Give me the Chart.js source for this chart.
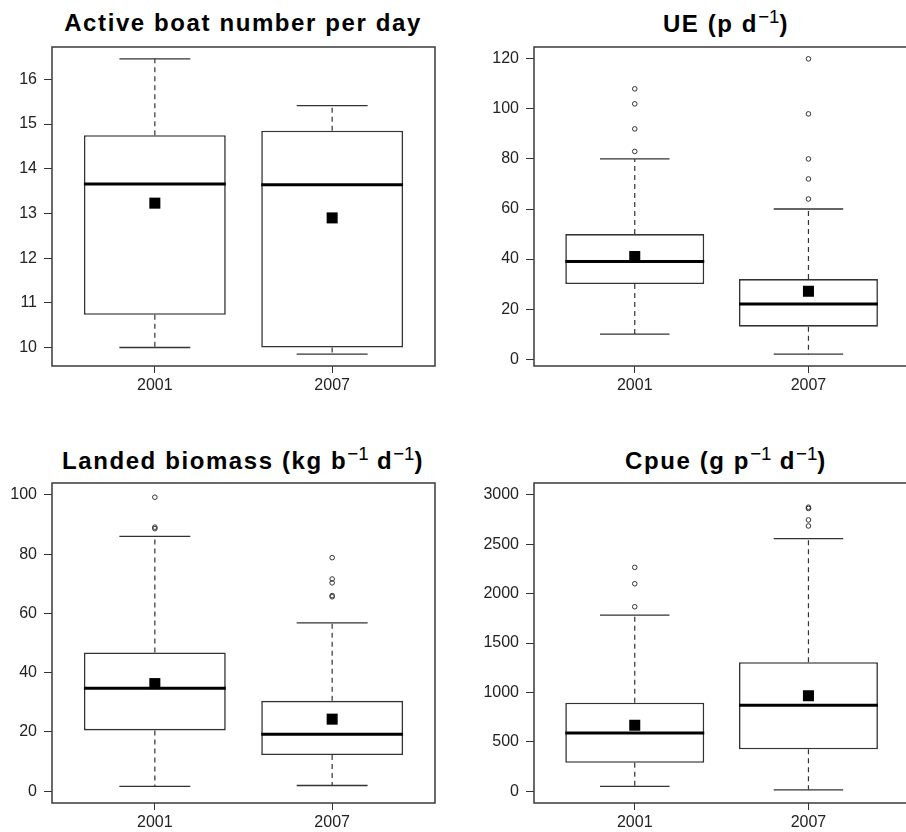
<!DOCTYPE html>
<html>
<head>
<meta charset="utf-8">
<script src="https://cdn.jsdelivr.net/npm/chart.js@4.4.1/dist/chart.umd.min.js"></script>
<style>
  html, body { margin: 0; padding: 0; background: #fff; overflow: hidden; width: 906px; height: 832px; }
  .panel { position: absolute; }
  .title {
    position: absolute; width: 460px; text-align: center; white-space: nowrap;
    font: bold 24px "Liberation Sans", Arial, sans-serif; line-height: 24px;
    letter-spacing: 1.6px; color: #000;
  }
  .title sup {
    font-size: 0.78em; font-weight: normal; letter-spacing: 0;
    vertical-align: baseline; position: relative; top: -0.5em;
  }
</style>
</head>
<body>
<div class="title" style="left:13px;top:11px">Active boat number per day</div>
<div class="title" style="left:496px;top:12px">UE (p d<sup>&minus;1</sup>)</div>
<div class="title" style="left:13px;top:449px">Landed biomass (kg b<sup>&minus;1</sup> d<sup>&minus;1</sup>)</div>
<div class="title" style="left:496px;top:449px">Cpue (g p<sup>&minus;1</sup> d<sup>&minus;1</sup>)</div>

<canvas class="panel" id="boats" width="453" height="416" style="left:0;top:0"></canvas>
<canvas class="panel" id="ue" width="464" height="416" style="left:453px;top:0"></canvas>
<canvas class="panel" id="biomass" width="453" height="416" style="left:0;top:416px"></canvas>
<canvas class="panel" id="cpue" width="464" height="416" style="left:453px;top:416px"></canvas>

<script>
// Survey years
const categories = ['2001', '2007'];

// Active boat number per day
const boatMin = [10.0, 9.85];
const boatQ1 = [10.73, 10.0];
const boatMedian = [13.66, 13.64];
const boatQ3 = [14.75, 14.85];
const boatMax = [16.46, 15.41];
const boatMean = [13.23, 12.90];
const boatOutliers = [[], []];
const boatTicks = [10, 11, 12, 13, 14, 15, 16];

// Fishing effort, persons per day
const ueMin = [10, 2];
const ueQ1 = [30, 13];
const ueMedian = [39, 22];
const ueQ3 = [50, 32];
const ueMax = [80, 60];
const ueMean = [41.0, 27.1];
const ueOutliers = [[83, 92, 102, 108], [64, 72, 80, 98, 120]];
const ueTicks = [0, 20, 40, 60, 80, 100, 120];

// Landed biomass, kg per boat per day
const bioMin = [1.6, 1.9];
const bioQ1 = [20.5, 12.2];
const bioMedian = [34.7, 19.2];
const bioQ3 = [46.8, 30.5];
const bioMax = [86.0, 56.8];
const bioMean = [36.3, 24.3];
const bioOutliers = [[88.6, 89.1, 99.2], [65.6, 66.0, 70.3, 71.6, 78.8]];
const bioTicks = [0, 20, 40, 60, 80, 100];

// Catch per unit effort, g per person per day
const cpueMin = [48, 13];
const cpueQ1 = [287, 423];
const cpueMedian = [588, 869];
const cpueQ3 = [896, 1306];
const cpueMax = [1782, 2557];
const cpueMean = [667, 967];
const cpueOutliers = [[1867, 2100, 2266], [2685, 2746, 2862, 2875]];
const cpueTicks = [0, 500, 1000, 1500, 2000, 2500, 3000];

const tickFont = { family: '"Liberation Sans", Arial, sans-serif', size: 16 };
const ink = '#333';

// Frame, whiskers, caps and medians, placed through the chart's scales
const boxParts = {
  id: 'boxParts',
  beforeDatasetsDraw(chart) {
    const a = chart.chartArea, ctx = chart.ctx;
    ctx.save();
    ctx.strokeStyle = '#3a3a3a';
    ctx.lineWidth = 1.5;
    ctx.strokeRect(a.left, a.top, a.right - a.left, a.bottom - a.top);
    ctx.restore();
  },
  afterDatasetDraw(chart, args) {
    if (args.meta.type !== 'bar') return;
    const s = chart.options.plugins.boxParts;
    const ys = chart.scales.y, ctx = chart.ctx;
    ctx.save();
    args.meta.data.forEach((el, i) => {
      const cx = el.x, half = el.width / 2;
      const yMin = ys.getPixelForValue(s.min[i]);
      const yQ1 = ys.getPixelForValue(s.q1[i]);
      const yQ3 = ys.getPixelForValue(s.q3[i]);
      const yMax = ys.getPixelForValue(s.max[i]);
      const yMed = ys.getPixelForValue(s.median[i]);
      // dashed whiskers
      ctx.strokeStyle = ink;
      ctx.lineWidth = 1.2;
      ctx.setLineDash([5, 4]);
      ctx.beginPath();
      ctx.moveTo(cx, yQ3); ctx.lineTo(cx, yMax);
      ctx.moveTo(cx, yQ1); ctx.lineTo(cx, yMin);
      ctx.stroke();
      // caps
      ctx.setLineDash([]);
      ctx.lineWidth = 1.3;
      ctx.beginPath();
      ctx.moveTo(cx - half / 2, yMax); ctx.lineTo(cx + half / 2, yMax);
      ctx.moveTo(cx - half / 2, yMin); ctx.lineTo(cx + half / 2, yMin);
      ctx.stroke();
      // median
      ctx.strokeStyle = '#000';
      ctx.lineWidth = 3;
      ctx.beginPath();
      ctx.moveTo(cx - half, yMed); ctx.lineTo(cx + half, yMed);
      ctx.stroke();
    });
    ctx.restore();
  }
};

function boxPanel(id, s) {
  const boxes = categories.map((c, i) => ({ x: i + 1, y: [s.q1[i], s.q3[i]] }));
  const means = categories.map((c, i) => ({ x: i + 1, y: s.mean[i] }));
  const outs = [];
  s.outliers.forEach((list, i) => list.forEach(v => outs.push({ x: i + 1, y: v })));

  return new Chart(document.getElementById(id), {
    type: 'bar',
    data: {
      datasets: [
        { type: 'scatter', data: means, pointStyle: 'rect', pointRadius: 7.8,
          backgroundColor: '#000', borderWidth: 0 },
        { type: 'scatter', data: outs, pointStyle: 'circle', pointRadius: 2.3,
          backgroundColor: 'rgba(255,255,255,0)', borderColor: ink, borderWidth: 1 },
        { type: 'bar', data: boxes, backgroundColor: '#fff', borderColor: ink,
          borderWidth: 1.6, borderSkipped: false, categoryPercentage: 1, barPercentage: 0.8 }
      ]
    },
    options: {
      responsive: false,
      animation: false,
      events: [],
      layout: { padding: s.pad },
      plugins: {
        legend: { display: false },
        tooltip: { enabled: false },
        boxParts: s
      },
      scales: {
        x: {
          type: 'linear', min: 0.42, max: 2.58, offset: false,
          grid: { drawOnChartArea: false, offset: false, tickLength: 7, color: ink },
          border: { display: false },
          ticks: { font: tickFont, color: '#222', padding: 3, maxRotation: 0, autoSkip: false,
                   callback: (v, i) => categories[i] },
          afterBuildTicks: sc => { sc.ticks = categories.map((c, i) => ({ value: i + 1 })); },
          afterFit: sc => { sc.height = s.xH; }
        },
        y: {
          type: 'linear', min: s.yMin, max: s.yMax,
          grid: { drawOnChartArea: false, offset: false, tickLength: 8, color: ink },
          border: { display: false },
          ticks: { font: tickFont, color: '#222', padding: 7, autoSkip: false,
                   callback: v => String(v) },
          afterBuildTicks: sc => { sc.ticks = s.ticks.map(v => ({ value: v })); },
          afterFit: sc => { sc.width = s.yW; }
        }
      }
    },
    plugins: [boxParts]
  });
}

boxPanel('boats', {
  min: boatMin, q1: boatQ1, median: boatMedian, q3: boatQ3, max: boatMax,
  mean: boatMean, outliers: boatOutliers, ticks: boatTicks,
  yMin: 9.586, yMax: 16.724,
  pad: { left: 0, right: 18, top: 47, bottom: 0 }, yW: 52, xH: 50
});
boxPanel('ue', {
  min: ueMin, q1: ueQ1, median: ueMedian, q3: ueQ3, max: ueMax,
  mean: ueMean, outliers: ueOutliers, ticks: ueTicks,
  yMin: -2.72, yMax: 124.72,
  pad: { left: 0, right: 0, top: 47, bottom: 0 }, yW: 81, xH: 50
});
boxPanel('biomass', {
  min: bioMin, q1: bioQ1, median: bioMedian, q3: bioQ3, max: bioMax,
  mean: bioMean, outliers: bioOutliers, ticks: bioTicks,
  yMin: -4, yMax: 104,
  pad: { left: 0, right: 18, top: 67, bottom: 0 }, yW: 52, xH: 29
});
boxPanel('cpue', {
  min: cpueMin, q1: cpueQ1, median: cpueMedian, q3: cpueQ3, max: cpueMax,
  mean: cpueMean, outliers: cpueOutliers, ticks: cpueTicks,
  yMin: -120, yMax: 3120,
  pad: { left: 0, right: 0, top: 67, bottom: 0 }, yW: 81, xH: 29
});
</script>
</body>
</html>
